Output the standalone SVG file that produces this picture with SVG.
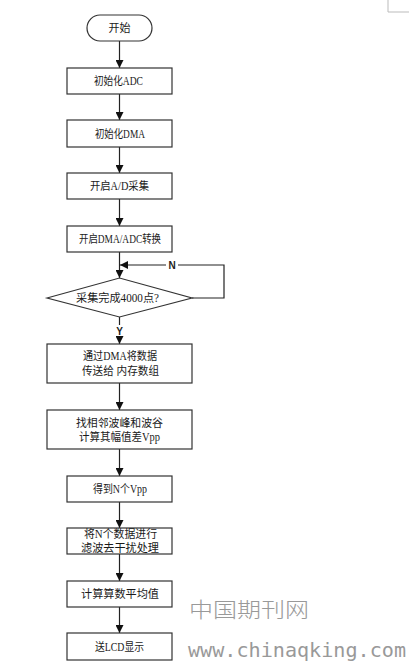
<svg xmlns="http://www.w3.org/2000/svg" width="416" height="668" viewBox="0 0 416 668">
<style>
.n{fill:#fff;stroke:#333;stroke-width:1.2}
.t{font-family:"Liberation Serif","Noto Sans CJK SC",serif;font-size:11.5px;fill:#1a1a1a;text-anchor:middle}
.c{fill:none;stroke:#222;stroke-width:1.2}
.lb{font-family:"Liberation Sans","Noto Sans CJK SC",sans-serif;font-size:10px;font-weight:bold;fill:#222;text-anchor:middle}
.wm{font-family:"Noto Sans CJK SC",sans-serif;fill:#999;font-weight:300}
</style>
<defs>
<marker id="ah" markerUnits="userSpaceOnUse" markerWidth="8" markerHeight="8" refX="8" refY="4" orient="auto">
<path d="M0,0 L8,4 L0,8 z" fill="#111"/>
</marker>
</defs>
<rect width="416" height="668" fill="#fff"/>
<path d="M388,0 V12 H409" fill="none" stroke="#bbb" stroke-width="1"/>
<g id="connectors">
<path class="c" d="M119.5,41 V68" marker-end="url(#ah)"/>
<path class="c" d="M119.5,94 V120" marker-end="url(#ah)"/>
<path class="c" d="M119.5,147 V173" marker-end="url(#ah)"/>
<path class="c" d="M119.5,199 V226" marker-end="url(#ah)"/>
<path class="c" d="M119.5,252 V278" marker-end="url(#ah)"/>
<path class="c" d="M192,298 H224 V265 H120" marker-end="url(#ah)"/>
<path class="c" d="M119.5,317 V344" marker-end="url(#ah)"/>
<path class="c" d="M119.5,383 V410" marker-end="url(#ah)"/>
<path class="c" d="M119.5,449 V476" marker-end="url(#ah)"/>
<path class="c" d="M119.5,502 V528" marker-end="url(#ah)"/>
<path class="c" d="M119.5,554 V581" marker-end="url(#ah)"/>
<path class="c" d="M119.5,607 V633" marker-end="url(#ah)"/>
<rect x="166" y="259" width="12" height="12" fill="#fff"/>
<text class="lb" x="172" y="269">N</text>
<rect x="113" y="325" width="13" height="11" fill="#fff"/>
<text class="lb" x="119.5" y="335">Y</text>
</g>
<g id="start"><rect class="n" x="87" y="15" width="65" height="26" rx="13"/><text class="t" x="119.5" y="32" textLength="22" lengthAdjust="spacingAndGlyphs">开始</text></g>
<g id="initADC"><rect class="n" x="67" y="68" width="105" height="26"/><text class="t" x="118.5" y="85" textLength="49" lengthAdjust="spacingAndGlyphs">初始化ADC</text></g>
<g id="initDMA"><rect class="n" x="67" y="120" width="105" height="27"/><text class="t" x="120" y="137.5" textLength="50" lengthAdjust="spacingAndGlyphs">初始化DMA</text></g>
<g id="startAD"><rect class="n" x="67" y="173" width="105" height="26"/><text class="t" x="119.5" y="190" textLength="59" lengthAdjust="spacingAndGlyphs">开启A/D采集</text></g>
<g id="startDMA"><rect class="n" x="67" y="226" width="105" height="26"/><text class="t" x="120" y="243" textLength="82" lengthAdjust="spacingAndGlyphs">开启DMA/ADC转换</text></g>
<g id="decision"><polygon class="n" points="47,298 119.5,278 192,298 119.5,317"/><text class="t" x="117.5" y="302" textLength="83" lengthAdjust="spacingAndGlyphs">采集完成4000点?</text></g>
<g id="transfer"><rect class="n" x="47" y="344" width="145" height="39"/><text class="t" x="120" y="360" textLength="74" lengthAdjust="spacingAndGlyphs">通过DMA将数据</text><text class="t" x="120.5" y="375" textLength="77" lengthAdjust="spacingAndGlyphs">传送给 内存数组</text></g>
<g id="findpeak"><rect class="n" x="47" y="410" width="145" height="39"/><text class="t" x="119.5" y="427" textLength="87" lengthAdjust="spacingAndGlyphs">找相邻波峰和波谷</text><text class="t" x="119.5" y="441" textLength="81" lengthAdjust="spacingAndGlyphs">计算其幅值差Vpp</text></g>
<g id="getN"><rect class="n" x="67" y="476" width="105" height="26"/><text class="t" x="120" y="493" textLength="54" lengthAdjust="spacingAndGlyphs">得到N个Vpp</text></g>
<g id="filter"><rect class="n" x="67" y="528" width="105" height="26"/><text class="t" x="120.5" y="538" textLength="73" lengthAdjust="spacingAndGlyphs">将N个数据进行</text><text class="t" x="120" y="552" textLength="78" lengthAdjust="spacingAndGlyphs">滤波去干扰处理</text></g>
<g id="average"><rect class="n" x="67" y="581" width="105" height="26"/><text class="t" x="120" y="598" textLength="78" lengthAdjust="spacingAndGlyphs">计算算数平均值</text></g>
<g id="lcd"><rect class="n" x="67" y="633" width="105" height="27"/><text class="t" x="119.5" y="651" textLength="49" lengthAdjust="spacingAndGlyphs">送LCD显示</text></g>
<text class="wm" x="189" y="617" font-size="21" textLength="120" lengthAdjust="spacingAndGlyphs">中国期刊网</text>
<text x="188" y="657" font-family="DejaVu Sans Mono,monospace" font-size="20" fill="#999" textLength="218" lengthAdjust="spacingAndGlyphs">www.chinaqking.com</text>
</svg>
